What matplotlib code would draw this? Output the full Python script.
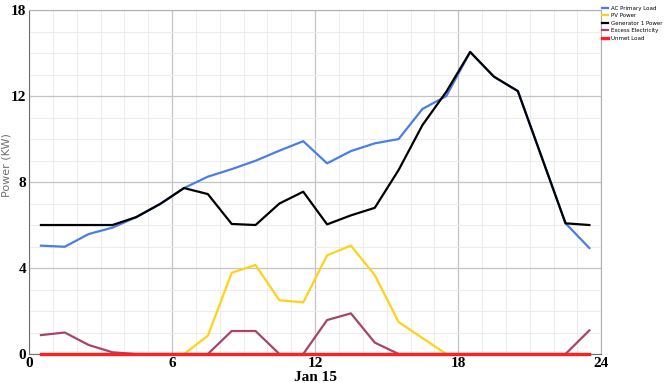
import matplotlib
matplotlib.use("Agg")
import matplotlib.pyplot as plt
from matplotlib.ticker import MultipleLocator

hours = [h + 0.5 for h in range(24)]

ac_load = [5.04, 4.99, 5.58, 5.88, 6.37, 6.98, 7.72, 8.25, 8.6, 8.99, 9.46, 9.9,
           8.87, 9.44, 9.8, 10.0, 11.4, 12.0, 14.05, 12.9, 12.23, 9.16, 6.08, 4.93]
pv_power = [0, 0, 0, 0, 0, 0, 0, 0.85, 3.78, 4.14, 2.5, 2.4,
            4.59, 5.04, 3.67, 1.49, 0.74, 0, 0, 0, 0, 0, 0, 0]
generator = [6.0, 6.0, 6.0, 6.0, 6.37, 6.98, 7.72, 7.44, 6.05, 6.0, 7.0, 7.55,
             6.03, 6.45, 6.8, 8.56, 10.65, 12.2, 14.05, 12.9, 12.23, 9.16, 6.08, 6.0]
excess = [0.88, 1.0, 0.42, 0.08, 0, 0, 0, 0, 1.07, 1.07, 0, 0,
          1.58, 1.89, 0.53, 0, 0, 0, 0, 0, 0, 0, 0, 1.1]
unmet = [0] * 24

y_ticks = [0, 4, 8, 12, 16]
y_tick_labels = ["0", "4", "8", "12", "18"]
x_ticks = [0, 6, 12, 18, 24]

fig = plt.figure(figsize=(6.67, 3.83), dpi=100)
ax = fig.add_axes([0.0435, 0.0757, 0.858, 0.898])

ax.plot(hours, ac_load, color="#4a7ee6", lw=1.6, label="AC Primary Load")
ax.plot(hours, pv_power, color="#ffd21a", lw=1.6, label="PV Power")
ax.plot(hours, generator, color="black", lw=1.6, label="Generator 1 Power")
ax.plot(hours, excess, color="#a8436c", lw=1.6, label="Excess Electricity")
ax.plot(hours, unmet, color="#ff2020", lw=2.4, label="Unmet Load",
        clip_on=False, zorder=4)

ax.set_xlim(0, 24)
ax.set_ylim(0, 16)
ax.set_xticks(x_ticks)
ax.set_yticks(y_ticks)
ax.set_yticklabels(y_tick_labels)
ax.xaxis.set_minor_locator(MultipleLocator(1))
ax.yaxis.set_minor_locator(MultipleLocator(1))
ax.grid(which="major", color="#c4c4c4", lw=0.9)
ax.grid(which="minor", color="#ececec", lw=0.7)
ax.set_axisbelow(True)
ax.tick_params(which="both", length=0, pad=2)
for lab in ax.get_xticklabels() + ax.get_yticklabels():
    lab.set_fontfamily("Liberation Serif")
    lab.set_fontweight("bold")
    lab.set_fontsize(11)

for s in ax.spines.values():
    s.set_color("#b0b0b0")
ax.spines["left"].set_color("#707070")
ax.spines["bottom"].set_color("#707070")

ax.set_ylabel("Power (KW)", color="#707070", fontsize=8)
ax.yaxis.set_label_coords(-0.031, 0.55)
ax.text(12, -1.07, "Jan 15", ha="center", va="center", fontfamily="Liberation Serif",
        fontweight="bold", fontsize=11)

fig.legend(loc="upper left", bbox_to_anchor=(0.903, 0.985), frameon=False,
           fontsize=4, handlelength=1.1, handletextpad=0.4, labelspacing=0.45,
           borderaxespad=0, borderpad=0)

fig.savefig("out.png", dpi=100)
